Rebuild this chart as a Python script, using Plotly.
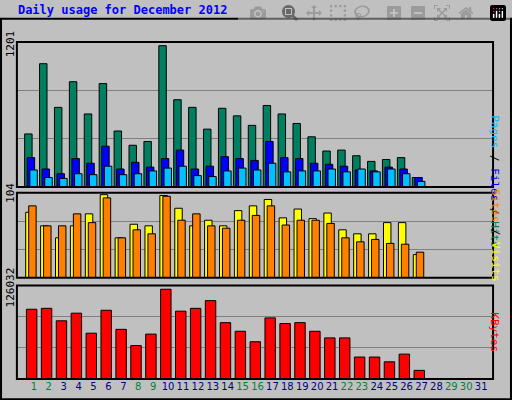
import plotly.graph_objects as go

days = list(range(1, 32))
hits = [451, 1048, 677, 895, 621, 879, 476, 355, 387, 1201, 742, 677, 492, 669, 605, 524, 693, 621, 540, 427, 306, 314, 266, 218, 234, 250, 81]
files = [250, 153, 113, 242, 202, 347, 153, 210, 169, 242, 314, 153, 177, 258, 242, 226, 387, 250, 242, 202, 193, 177, 145, 137, 169, 153, 81]
pages = [145, 81, 73, 113, 105, 177, 105, 113, 137, 161, 177, 97, 89, 137, 161, 145, 202, 129, 137, 137, 153, 129, 153, 129, 153, 113, 48]
visits = [82, 65, 50, 65, 80, 104, 50, 67, 65, 103, 87, 65, 72, 65, 84, 90, 98, 75, 86, 74, 81, 60, 55, 55, 69, 69, 29]
sites = [90, 65, 65, 80, 69, 100, 50, 60, 55, 102, 72, 80, 65, 62, 72, 78, 90, 66, 72, 72, 68, 50, 45, 48, 43, 42, 32]
kbytes = [97900, 99200, 81700, 92400, 64300, 96500, 69700, 46900, 63000, 126032, 95200, 99200, 110000, 79100, 67000,
          52300, 85800, 77800, 79100, 67000, 57700, 57700, 30800, 30800, 24100, 34900, 12100]
weekend = {1, 2, 8, 9, 15, 16, 22, 23, 29, 30}

n = len(hits)
x = days[:n]
fig = go.Figure()

def bars(y, color, off, w, ax):
    fig.add_trace(go.Bar(x=x, y=y, offset=off, width=w, marker_color=color,
                         marker_line=dict(color="black", width=1), xaxis="x", yaxis=ax))

bars(hits, "#008060", -0.62, 0.5, "y")
bars(files, "#0000ff", -0.45, 0.5, "y")
bars(pages, "#00c0ff", -0.27, 0.5, "y")
bars(visits, "#ffff00", -0.55, 0.5, "y2")
bars(sites, "#ff8000", -0.35, 0.5, "y2")
bars(kbytes, "#ff0000", -0.5, 0.7, "y3")

font = dict(family="DejaVu Sans Mono", size=11, color="black")
ticktext = [f"<span style='color:{'#008040' if d in weekend else '#000080'}'>{d}</span>" for d in days]

def yax(dom, mx, top):
    return dict(domain=dom, range=[0, top], tickvals=[mx], ticktext=[str(mx)], tickangle=-90,
                showgrid=False, zeroline=False, ticks="", tickfont=font,
                minor=dict(tickvals=[top / 3, 2 * top / 3], showgrid=True, gridcolor="#808080", gridwidth=1),
                showline=False)

fig.update_layout(
    width=512, height=400, barmode="overlay", showlegend=False,
    paper_bgcolor="#c0c0c0", plot_bgcolor="#c0c0c0",
    margin=dict(l=0, r=0, t=0, b=0),
    xaxis=dict(domain=[0.033, 0.963], range=[-0.14, 31.8], tickvals=days, ticktext=ticktext,
               ticks="", showgrid=False, tickfont=dict(family="DejaVu Sans", size=10), anchor="y3"),
    yaxis=yax([0.5575, 0.9375], 1201, 1201 * 152 / 148),
    yaxis2=yax([0.32, 0.5425], 104, 104 * 89 / 87),
    yaxis3=yax([0.055, 0.30], 126032, 126032 * 98 / 94),
    title=dict(text="<b>Daily usage for December 2012</b>", x=0.035, y=0.985, xanchor="left", yanchor="top",
               font=dict(family="DejaVu Sans Mono", size=12, color="#0000ff")),
)
for y0, y1 in [(0.5575, 0.9375), (0.32, 0.5425), (0.055, 0.30)]:
    fig.add_shape(type="rect", xref="paper", yref="paper", x0=0.033, x1=0.963, y0=y0, y1=y1,
                  line=dict(color="black", width=2), layer="above")
fig.add_shape(type="rect", xref="paper", yref="paper", x0=0.002, x1=0.998, y0=0.002, y1=0.998,
              line=dict(color="black", width=2))

labels = [
    (0.75, "<span style='color:#00c0ff'>Pages</span> / <span style='color:#0000ff'>Files</span> / <span style='color:#008060'>Hits</span>"),
    (0.43, "<span style='color:#ff8000'>Sites</span> / <span style='color:#ffff00'>Visits</span>"),
    (0.12, "<span style='color:#ff0000'>KBytes</span>"),
]
for yy, t in labels:
    fig.add_annotation(text=t, xref="paper", yref="paper", x=0.983, y=yy, textangle=90, showarrow=False,
                       font=dict(family="DejaVu Sans Mono", size=11, color="black"))

fig.write_html("out.html", post_script="document.body.style.margin='0';document.body.style.overflow='hidden';")
